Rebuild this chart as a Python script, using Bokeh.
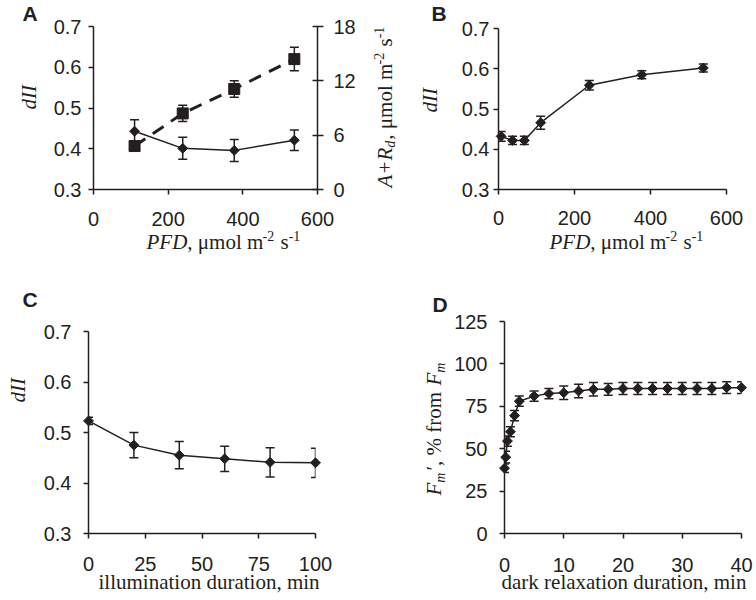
import math
from bokeh.plotting import figure
from bokeh.models import (Range1d, LinearAxis, FixedTicker, Whisker,
                          TeeHead, ColumnDataSource)
from bokeh.core.properties import value
from bokeh.layouts import row, column
from bokeh.embed import file_html
from bokeh.resources import INLINE

# ---------------- data ----------------
# Panel A
a_pfd = [110, 239, 377, 538]
a_dII = [0.443, 0.401, 0.396, 0.421]
a_dII_err = [0.028, 0.027, 0.027, 0.025]
a_ard = [4.8, 8.4, 11.1, 14.4]
a_ard_err = [0.0, 0.9, 0.9, 1.3]
# Panel B
b_pfd = [7, 37, 68, 111, 239, 377, 539]
b_dII = [0.432, 0.422, 0.422, 0.466, 0.559, 0.585, 0.602]
b_err = [0.012, 0.010, 0.010, 0.016, 0.012, 0.010, 0.010]
# Panel C
c_time = [0, 20, 40, 60, 80, 100]
c_dII = [0.523, 0.475, 0.455, 0.448, 0.441, 0.440]
c_err = [0.007, 0.025, 0.027, 0.025, 0.029, 0.029]
# Panel D
d_time = [0, 0.2, 0.5, 1, 1.7, 2.5, 5, 7.5, 10, 12.5, 15, 17.5, 20, 22.5,
          25, 27.5, 30, 32.5, 35, 37.5, 40]
d_fm = [38.5, 45, 54.5, 60, 69.5, 78, 81, 82.5, 83, 84, 85, 85, 85.5, 85.5,
        85.5, 85.5, 85.5, 85.5, 85.5, 86, 86]
d_err = [2.5, 3.5, 3, 3, 3, 3, 3, 3, 4, 4, 4, 3.5, 3.5, 3.5, 3.5, 3.5, 3.5,
         3.5, 3.5, 3.5, 3.5]

# ticks
pfd_ticks = [0, 200, 400, 600]
dII_ticks = [0.3, 0.4, 0.5, 0.6, 0.7]
ard_ticks = [0, 6, 12, 18]
c_ticks = [0, 25, 50, 75, 100]
d_xticks = [0, 10, 20, 30, 40]
d_yticks = [0, 25, 50, 75, 100, 125]

INK = "#231f20"
SANS = "Liberation Sans"
SERIF = "Liberation Serif"

# Times-compatible advance widths (per 1000 em)
TR = {' ': 250, ',': 250, '.': 250, '-': 333, '%': 833, "'": 180, '′': 275,
      '+': 564, 'a': 444, 'b': 500, 'c': 444, 'd': 500, 'e': 444, 'f': 333,
      'i': 278, 'k': 500, 'l': 278, 'm': 778, 'n': 500, 'o': 500, 'r': 333,
      's': 389, 't': 278, 'u': 500, 'x': 500, 'μ': 500}
TI = {'A': 611, 'D': 722, 'F': 611, 'I': 333, 'P': 611, 'R': 611, 'd': 500,
      'm': 722, '+': 675}


def tw(s, size, italic):
    tbl = TI if italic else TR
    return sum(tbl.get(ch, TR.get(ch, 500)) for ch in s) * size / 1000.0


def style_axis(ax, st, tin=0, tout=5):
    ax.axis_line_color = INK
    ax.axis_line_width = 1.5
    ax.major_tick_line_color = INK
    ax.major_tick_line_width = 1.5
    ax.major_tick_in = tin
    ax.major_tick_out = tout
    ax.minor_tick_line_color = None
    ax.major_label_text_font = SANS
    ax.major_label_text_font_size = "20px"
    ax.major_label_text_color = INK
    ax.major_label_standoff = st


def make_fig(ox, oy, W, H, ml, mt, fw, fh, xr, yr, xticks, yticks, xstand,
             ystand, ybounds="auto"):
    p = figure(frame_width=fw, frame_height=fh,
               min_border_left=ml, min_border_right=W - ml - fw,
               min_border_top=mt, min_border_bottom=H - mt - fh,
               x_range=Range1d(*xr), y_range=Range1d(*yr),
               x_axis_location=None, y_axis_location=None,
               output_backend="svg", toolbar_location=None, title=None)
    p.grid.visible = False
    p.outline_line_color = None
    p.background_fill_color = "white"
    p.border_fill_color = "white"
    xa = LinearAxis(ticker=FixedTicker(ticks=xticks))
    ya = LinearAxis(ticker=FixedTicker(ticks=yticks), bounds=ybounds)
    style_axis(xa, xstand)
    style_axis(ya, ystand)
    p.add_layout(xa, "below")
    p.add_layout(ya, "left")
    p._geo = dict(fl=ox + ml, fb=oy + mt + fh, x0=xr[0], y0=yr[0],
                  sx=(xr[1] - xr[0]) / fw, sy=(yr[1] - yr[0]) / fh)
    return p


def put(p, X, Y, text, size, font=SERIF, style="normal", angle=0.0):
    # (X, Y): wanted baseline start in page pixels
    g = p._geo
    d = 0.36 * size  # baseline compensation
    if angle:
        X -= d
    else:
        Y -= d
    xd = g["x0"] + (X - g["fl"]) * g["sx"]
    yd = g["y0"] + (g["fb"] - Y) * g["sy"]
    p.text(x=[xd], y=[yd], text=[text], angle=angle, text_align="left",
           text_baseline="alphabetic", text_font=value(font),
           text_font_size=value(f"{size}px"), text_font_style=style,
           text_color=INK, level="overlay")


def runs(p, X0, Y0, parts, rotated=False):
    pos = 0.0
    for text, size, style, shift, gap in parts:
        lead = len(text) - len(text.lstrip(" "))
        pos += lead * TR[" "] * size / 1000.0
        text = text.lstrip(" ")
        if rotated:
            put(p, X0 - shift, Y0 - pos, text, size, style=style, angle=math.pi / 2)
        else:
            put(p, X0 + pos, Y0 - shift, text, size, style=style)
        pos += tw(text, size, style == "italic") + gap


def letter(p, X, Y, t):
    put(p, X, Y, t, 21, font=SANS, style="bold")


def errbars(p, xs, ys, es, head=9, **kw):
    src = ColumnDataSource(dict(x=xs, lower=[y - e for y, e in zip(ys, es)],
                                upper=[y + e for y, e in zip(ys, es)]))
    w = Whisker(source=src, base="x", lower="lower", upper="upper",
                dimension="height", line_color=INK, line_width=1.5,
                upper_head=TeeHead(size=head, line_color=INK, line_width=1.5),
                lower_head=TeeHead(size=head, line_color=INK, line_width=1.5), **kw)
    p.add_layout(w)


def diamonds(p, xs, ys):
    p.line(xs, ys, line_color=INK, line_width=1.5)
    p.scatter(xs, ys, marker="square", angle=math.pi / 4, size=7,
              fill_color=INK, line_color=INK, level="overlay")


PFD_TITLE = [("PFD", 21, "italic", 0, 0), (", μmol m", 21, "normal", 0, 0),
             ("-2", 14, "normal", 8, 1), (" s", 21, "normal", 0, 0),
             ("-1", 14, "normal", 8, 0)]

# ---------------- Panel A ----------------
pA = make_fig(0, 0, 400, 288, 93, 26, 224, 163, (0, 600), (0.3, 0.7),
              pfd_ticks, dII_ticks, 17, 7)
pA.extra_y_ranges = {"right": Range1d(0, 18)}
ra = LinearAxis(y_range_name="right", ticker=FixedTicker(ticks=ard_ticks))
style_axis(ra, 10, tin=5, tout=6)
pA.add_layout(ra, "right")
errbars(pA, a_pfd, a_ard, a_ard_err, y_range_name="right")
pA.line(a_pfd, a_ard, line_color=INK, line_width=3, line_dash="13 9",
        y_range_name="right")
pA.scatter(a_pfd, a_ard, marker="square", size=11, fill_color=INK,
           line_color=INK, y_range_name="right", level="overlay")
errbars(pA, a_pfd, a_dII, a_dII_err)
diamonds(pA, a_pfd, a_dII)
letter(pA, 22, 21, "A")
runs(pA, 36, 109, [("dII", 21, "italic", 0, 0)], rotated=True)
runs(pA, 146, 249, PFD_TITLE)
runs(pA, 392, 187, [("A+R", 21, "italic", 0, 0), ("d", 14, "italic", -3, 1),
                    (", μmol m", 21, "normal", 0, 0), ("-2", 14, "normal", 8, 1),
                    (" s", 21, "normal", 0, 0), ("-1", 14, "normal", 8, 0)],
     rotated=True)

# ---------------- Panel B ----------------
pB = make_fig(400, 0, 356, 288, 98, 26, 228, 163, (0, 600),
              (0.3, 0.3 + 163 * 0.4 / 161), pfd_ticks, dII_ticks, 16, 4,
              ybounds=(0.3, 0.7))
errbars(pB, b_pfd, b_dII, b_err)
diamonds(pB, b_pfd, b_dII)
letter(pB, 431, 21, "B")
runs(pB, 437, 112, [("dII", 21, "italic", 0, 0)], rotated=True)
runs(pB, 549, 249, PFD_TITLE)

# ---------------- Panel C ----------------
pC = make_fig(0, 288, 400, 312, 88, 33, 227, 212, (0, 100),
              (0.3, 0.3 + 212 * 0.4 / 202), c_ticks, dII_ticks, 18, 12,
              ybounds=(0.3, 0.7))
errbars(pC, c_time, c_dII, c_err)
diamonds(pC, c_time, c_dII)
letter(pC, 22, 307, "C")
runs(pC, 25, 402, [("dII", 21, "italic", 0, 0)], rotated=True)
runs(pC, 98, 589, [("illumination duration, min", 21, "normal", 0, 0)])

# ---------------- Panel D ----------------
pD = make_fig(400, 288, 356, 312, 104, 33, 237, 212, (0, 40), (0, 125),
              d_xticks, d_yticks, 19, 12)
errbars(pD, d_time, d_fm, d_err)
diamonds(pD, d_time, d_fm)
letter(pD, 432, 312, "D")
runs(pD, 441, 495, [("F", 21, "italic", 0, 0), ("m", 14, "italic", -4, 2),
                    ("′, % from ", 21, "normal", 0, 0), ("F", 21, "italic", 0, 0),
                    ("m", 14, "italic", -4, 0)], rotated=True)
runs(pD, 501, 589, [("dark relaxation duration, min", 21, "normal", 0, 0)])

layout = column(row(pA, pB), row(pC, pD))
open("out.html", "w").write(file_html(layout, INLINE))
